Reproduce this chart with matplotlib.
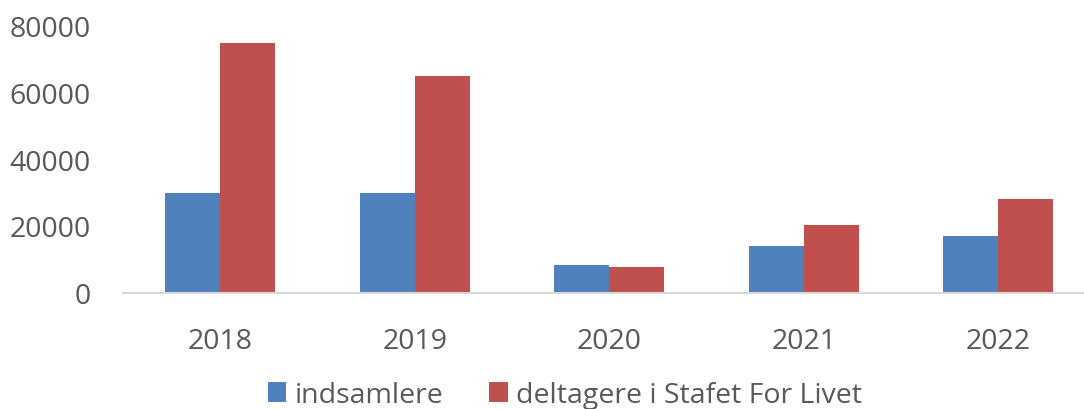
import matplotlib
matplotlib.use("Agg")
import matplotlib.pyplot as plt
import numpy as np

years = ["2018", "2019", "2020", "2021", "2022"]
indsamlere = [30000, 30000, 8300, 13900, 16900]
deltagere = [75000, 65000, 7600, 20300, 28000]
series_names = ["indsamlere", "deltagere i Stafet For Livet"]
yticks = [0, 20000, 40000, 60000, 80000]

plt.rcParams["font.family"] = ["Open Sans", "DejaVu Sans"]
text_color = "#595959"

fig = plt.figure(figsize=(10.84, 4.1), dpi=100)
ax = fig.add_axes([123 / 1084, (410 - 293.5) / 410, 972.5 / 1084, 266.5 / 410])

x = np.arange(len(years))
w = 0.284
ax.bar(x - w / 2, indsamlere, w, color="#4F81BD", label=series_names[0])
ax.bar(x + w / 2, deltagere, w, color="#C0504D", label=series_names[1])

ax.set_xlim(-0.5, len(years) - 0.5)
ax.set_ylim(0, 80000)
ax.set_yticks(yticks)
ax.set_yticklabels([str(v) for v in yticks])
ax.set_xticks(x)
ax.set_xticklabels(years)
ax.tick_params(axis="y", length=0, pad=23, labelsize=20.5, labelcolor=text_color)
ax.tick_params(axis="x", length=0, pad=25, labelsize=20.5, labelcolor=text_color)

for side in ["top", "right", "left"]:
    ax.spines[side].set_visible(False)
ax.spines["bottom"].set_color("#D9D9D9")
ax.spines["bottom"].set_linewidth(1.5)

leg = fig.legend(loc="center", bbox_to_anchor=(565 / 1084, 1 - 396 / 410), ncol=2,
                 frameon=False, fontsize=20.5, handlelength=0.65, handleheight=0.65,
                 handletextpad=0.3, columnspacing=1.6)
for t in leg.get_texts():
    t.set_color(text_color)

fig.savefig("out.png", dpi=100)
